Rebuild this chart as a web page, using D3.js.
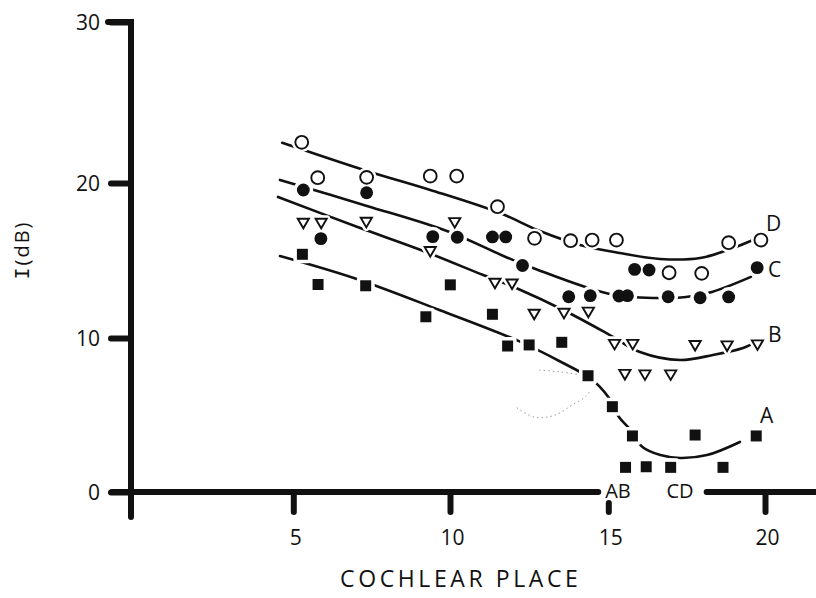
<!DOCTYPE html>
<html>
<head>
<meta charset="utf-8">
<script src="https://cdn.jsdelivr.net/npm/d3@7"></script>
<style>
  html, body { margin: 0; padding: 0; background: #fff; }
  svg { display: block; }
  text { font-family: "Open Sans", "DejaVu Sans", sans-serif; fill: #111; }
</style>
</head>
<body>
<svg id="chart" width="816" height="598"></svg>
<script>
// ---- data: cochlear place (x) vs. intensity I in dB (y) ----
const xTicks = [5, 10, 15, 20];
const yTicks = [0, 10, 20, 30];

// A: filled squares
const pointsA = [
  [5.29, 15.40], [5.79, 13.45], [7.31, 13.37], [9.23, 11.37], [10.01, 13.43],
  [11.34, 11.53], [11.82, 9.48], [12.50, 9.55], [13.53, 9.72], [14.36, 7.55],
  [15.13, 5.54], [15.77, 3.64], [17.77, 3.70], [19.72, 3.64], [15.55, 1.60],
  [16.21, 1.64], [16.99, 1.60], [18.66, 1.60]
];
// B: open down-pointing triangles
const pointsB = [
  [5.32, 17.40], [5.89, 17.40], [7.33, 17.46], [10.15, 17.44], [9.37, 15.57],
  [11.42, 13.53], [11.96, 13.48], [12.66, 11.53], [13.60, 11.59], [14.37, 11.66],
  [15.20, 9.58], [15.78, 9.58], [17.77, 9.51], [18.79, 9.48], [19.76, 9.55],
  [15.53, 7.63], [16.17, 7.60], [16.99, 7.60]
];
// C: filled circles
const pointsC = [
  [5.32, 19.55], [5.88, 16.41], [7.34, 19.37], [9.45, 16.54], [10.23, 16.50],
  [11.34, 16.52], [11.76, 16.52], [12.29, 14.68], [13.75, 12.66], [14.43, 12.73],
  [15.34, 12.71], [15.61, 12.73], [15.84, 14.43], [16.30, 14.39], [16.91, 12.66],
  [17.93, 12.60], [18.84, 12.65], [19.75, 14.54]
];
// D: open circles
const pointsD = [
  [5.27, 22.53], [5.78, 20.33], [7.34, 20.35], [9.37, 20.43], [10.21, 20.43],
  [11.50, 18.47], [12.67, 16.43], [13.81, 16.28], [14.49, 16.32], [15.26, 16.32],
  [16.94, 14.21], [17.98, 14.17], [18.84, 16.15], [19.87, 16.32]
];

// fitted curves, one per series
const curveA = [
  [4.59, 15.29], [6.93, 13.87], [9.66, 11.81], [12.16, 9.81], [13.51, 8.44],
  [14.46, 7.34], [15.00, 6.17], [15.34, 4.87], [15.65, 4.16], [16.09, 2.92],
  [16.66, 2.40], [17.29, 2.21], [18.15, 2.40], [19.20, 3.25]
];
const curveB = [
  [4.53, 19.10], [7.05, 17.16], [9.07, 15.68], [11.05, 14.06], [12.16, 13.16],
  [13.64, 11.74], [15.05, 10.19], [16.01, 9.09], [17.29, 8.57], [18.34, 8.90],
  [19.30, 9.35], [19.78, 9.81]
];
const curveC = [
  [4.59, 20.19], [7.35, 18.52], [9.90, 16.90], [11.76, 15.23], [12.62, 14.52],
  [15.05, 12.84], [16.52, 12.58], [17.48, 12.65], [18.31, 12.97], [19.55, 13.94]
];
const curveD = [
  [4.66, 22.50], [7.35, 20.75], [9.37, 19.55], [11.58, 18.06], [12.84, 16.90],
  [14.11, 16.00], [15.37, 15.48], [16.65, 15.10], [17.93, 15.16], [18.89, 15.74],
  [19.84, 16.52]
];

// faint dotted pencil marks near the steep part of curve A
const pencilMarks = [
  [[12.82, 7.92], [13.51, 7.79], [14.14, 7.60]],
  [[12.11, 5.47], [12.69, 4.85], [13.33, 5.00], [13.86, 5.65], [14.28, 6.19], [14.44, 6.62]]
];

// letters written on the abscissa
const placeMarks = [
  { label: "AB", x: 15.31 },
  { label: "CD", x: 17.29 }
];

const xTitle = "COCHLEAR PLACE";
const yTitle = ["I", "(dB)"];

// ---- scales (hand-drawn axis is slightly uneven, so piecewise) ----
const x = d3.scaleLinear().domain([0, 5, 10, 15, 20]).range([131, 293.3, 450, 608.3, 765]);
const y = d3.scaleLinear().domain([0, 10, 20, 30]).range([492, 338, 183, 22]);

const svg = d3.select("#chart");
const ink = "#111";

// ---- curves ----
const line = d3.line().x(d => x(d[0])).y(d => y(d[1])).curve(d3.curveCatmullRom.alpha(0.5));

svg.append("g")
  .selectAll("path.pencil")
  .data(pencilMarks)
  .join("path")
  .attr("d", line)
  .attr("fill", "none")
  .attr("stroke", "#9a9a9a")
  .attr("stroke-width", 1)
  .attr("stroke-dasharray", "1.5,3");

svg.append("g")
  .selectAll("path.fit")
  .data([curveA, curveB, curveC, curveD])
  .join("path")
  .attr("class", "fit")
  .attr("d", line)
  .attr("fill", "none")
  .attr("stroke", ink)
  .attr("stroke-width", 2.6)
  .attr("stroke-linecap", "round");

// ---- markers ----
const squarePath = d3.symbol(d3.symbolSquare, 121)();
const circlePath = d3.symbol(d3.symbolCircle, 130)();
const trianglePath = "M-5.6,-4.6L5.6,-4.6L0,5Z";

const groups = [
  { pts: pointsA, d: squarePath, fill: ink, stroke: "none", sw: 0 },
  { pts: pointsB, d: trianglePath, fill: "#fff", stroke: ink, sw: 1.9 },
  { pts: pointsC, d: circlePath, fill: ink, stroke: "none", sw: 0 },
  { pts: pointsD, d: circlePath, fill: "#fff", stroke: ink, sw: 1.9 }
];

// white halos break the curves where they run into a marker
const halo = svg.append("g");
groups.forEach(g => {
  halo.selectAll(null)
    .data(g.pts)
    .join("path")
    .attr("transform", d => `translate(${x(d[0])},${y(d[1])})`)
    .attr("d", g.d)
    .attr("fill", "#fff")
    .attr("stroke", "#fff")
    .attr("stroke-width", 7)
    .attr("stroke-linejoin", "round");
});

const marks = svg.append("g");
groups.forEach(g => {
  marks.selectAll(null)
    .data(g.pts)
    .join("path")
    .attr("transform", d => `translate(${x(d[0])},${y(d[1])})`)
    .attr("d", g.d)
    .attr("fill", g.fill)
    .attr("stroke", g.stroke)
    .attr("stroke-width", g.sw)
    .attr("stroke-linejoin", "miter");
});

// ---- curve names at the right end of each curve ----
const names = [
  { t: "D", c: curveD, dx: 6, dy: -6 },
  { t: "C", c: curveC, dx: 17, dy: 0 },
  { t: "B", c: curveB, dx: 10, dy: 1 },
  { t: "A", c: curveA, dx: 20, dy: -19 }
];
svg.append("g")
  .selectAll("text")
  .data(names)
  .join("text")
  .attr("x", d => x(d.c[d.c.length - 1][0]) + d.dx)
  .attr("y", d => y(d.c[d.c.length - 1][1]) + d.dy)
  .attr("font-size", 21)
  .text(d => d.t);

// ---- axes ----
const yAxis = svg.append("g")
  .attr("transform", `translate(${x(0)},0)`)
  .call(d3.axisLeft(y).tickValues(yTicks).tickSize(20).tickPadding(11));
yAxis.select(".domain").remove();
yAxis.selectAll(".tick line")
  .attr("stroke", ink).attr("stroke-width", 6).attr("stroke-linecap", "round");
yAxis.selectAll(".tick text")
  .attr("font-size", 21).attr("font-family", "Open Sans, DejaVu Sans, sans-serif")
  .attr("fill", ink).attr("dy", "0.36em");

const xAxis = svg.append("g")
  .attr("transform", `translate(0,${y(0)})`)
  .call(d3.axisBottom(x).tickValues(xTicks).tickSize(20).tickPadding(0));
xAxis.select(".domain").remove();
xAxis.selectAll(".tick line")
  .attr("stroke", ink).attr("stroke-width", 6).attr("stroke-linecap", "round")
  .attr("y1", d => d === 15 ? 11 : 0);
xAxis.selectAll(".tick text")
  .attr("font-size", 21).attr("font-family", "Open Sans, DejaVu Sans, sans-serif")
  .attr("fill", ink).attr("y", 53).attr("dy", 0).attr("dx", 2);

// letters on the abscissa
const pm = svg.append("g")
  .selectAll("text")
  .data(placeMarks)
  .join("text")
  .attr("x", d => x(d.x))
  .attr("y", y(0) + 6)
  .attr("text-anchor", "middle")
  .attr("font-size", 20)
  .text(d => d.label);

const boxes = pm.nodes().map(n => n.getBBox());
const gapL = boxes[0].x - 7;
const gapR = boxes[1].x + boxes[1].width + 13;

// axis lines: y runs from the 30 tick down past the origin, x is broken by the letters
svg.append("path")
  .attr("d", `M${x(0) - 23},${y(30)}H${x(0)}V${y(0) + 25}`)
  .attr("fill", "none").attr("stroke", ink).attr("stroke-width", 6)
  .attr("stroke-linejoin", "miter").attr("stroke-linecap", "round");
svg.append("path")
  .attr("d", `M${x(0) - 19},${y(0)}H${gapL}M${gapR},${y(0)}H${x(21.8)}`)
  .attr("fill", "none").attr("stroke", ink).attr("stroke-width", 6)
  .attr("stroke-linecap", "round");

// ---- titles ----
svg.append("text")
  .attr("x", (x(5) + x(15)) / 2 + 10)
  .attr("y", 587)
  .attr("text-anchor", "middle")
  .attr("font-size", 23)
  .attr("letter-spacing", 3.6)
  .text(xTitle);

const yt = svg.append("text")
  .attr("transform", `translate(29,250) rotate(-90)`)
  .attr("text-anchor", "middle")
  .attr("font-size", 20)
  .attr("letter-spacing", 2);
yt.append("tspan").attr("font-family", "DejaVu Sans Mono, monospace").text(yTitle[0]);
yt.append("tspan").text(yTitle[1]);
</script>
</body>
</html>
